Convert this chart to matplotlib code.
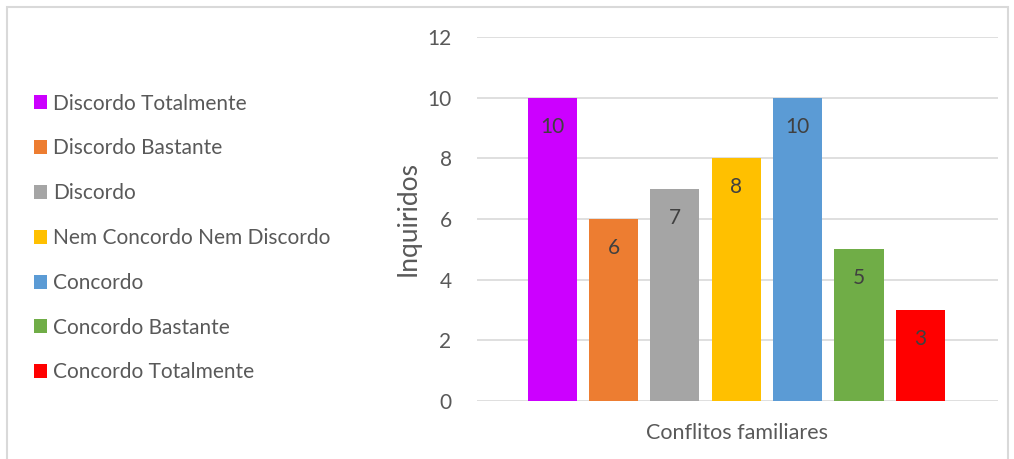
import numpy as np
import matplotlib.pyplot as plt
from matplotlib.patches import Rectangle

# dados
categorias = ['Discordo Totalmente', 'Discordo Bastante', 'Discordo',
              'Nem Concordo Nem Discordo', 'Concordo', 'Concordo Bastante',
              'Concordo Totalmente']
valores = [10, 6, 7, 8, 10, 5, 3]
cores = ['#cc00ff', '#ed7d31', '#a5a5a5', '#ffc000', '#5b9bd5', '#70ad47', '#ff0000']
grupo = 'Conflitos familiares'
eixo_y = 'Inquiridos'
ticks_y = [0, 2, 4, 6, 8, 10, 12]

plt.rcParams['font.family'] = ['Lato', 'DejaVu Sans']
cor_texto = '#595959'

fig = plt.figure(figsize=(10.14, 4.59), dpi=100)
ax = fig.add_axes([0.470, 0.1264, 0.514, 0.793])

x = np.arange(len(valores))
barras = []
for i in range(len(valores)):
    b = ax.bar(x[i], valores[i], width=0.8, color=cores[i], label=categorias[i], zorder=3)
    barras.append(b)
    ax.annotate(str(valores[i]), (x[i], valores[i]), xytext=(0, -21),
                textcoords='offset points', ha='center', va='center',
                fontsize=15, color='#404040', zorder=4)

ax.set_xlim(-1.23, 7.26)
ax.set_ylim(0, 12)
ax.set_yticks(ticks_y)
ax.set_xticks([])
ax.grid(axis='y', color='#d9d9d9', linewidth=1.2, zorder=0)
for s in ax.spines.values():
    s.set_visible(False)
ax.tick_params(axis='y', length=0, pad=18, labelsize=15, labelcolor=cor_texto)
ax.set_ylabel(eixo_y, fontsize=19, color=cor_texto, labelpad=5)
ax.set_xlabel(grupo, fontsize=15.5, color=cor_texto, labelpad=16)

leg = fig.legend(handles=[b[0] for b in barras], labels=categorias,
                 loc='upper left', bbox_to_anchor=(0.025, 0.814),
                 frameon=False, fontsize=15, labelcolor=cor_texto,
                 handlelength=0.65, handleheight=0.65, handletextpad=0.3,
                 labelspacing=1.19, borderaxespad=0)

fig.patches.append(Rectangle((0.007, -0.1), 0.987, 1.085, transform=fig.transFigure,
                             fill=False, edgecolor='#d9d9d9', linewidth=1.5))

fig.savefig('out.png', dpi=100)
